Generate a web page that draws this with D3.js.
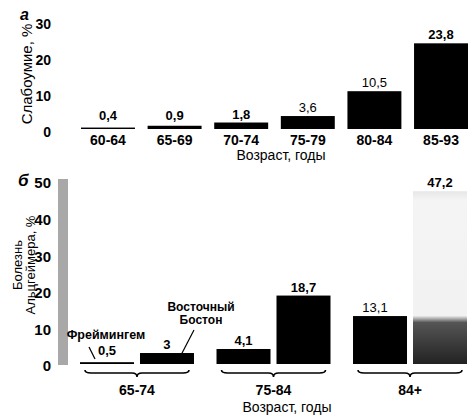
<!DOCTYPE html>
<html><head><meta charset="utf-8">
<script src="https://cdn.jsdelivr.net/npm/d3@7"></script>
<style>
html,body{margin:0;padding:0;background:#fff;}
svg{display:block;}
.narrow{font-family:"Liberation Sans Narrow","Arial Narrow","Liberation Sans",sans-serif;}
.sans{font-family:"Liberation Sans",Arial,sans-serif;}
</style></head>
<body>
<svg id="chart" width="470" height="417"></svg>
<script>
// ---- Panel а: dementia ----
const ageGroupsA = ["60-64","65-69","70-74","75-79","80-84","85-93"];
const dementiaPct = [0.4, 0.9, 1.8, 3.6, 10.5, 23.8];
const ticksA = [0, 10, 20, 30];

// ---- Panel б: Alzheimer's disease ----
const ageGroupsB = ["65-74","75-84","84+"];
const studies = ["Фреймингем","Восточный Бостон"];
const framinghamPct = [0.5, 4.1, 13.1];
const eastBostonPct = [3, 18.7, 47.2];
const ticksB = [0, 10, 20, 30, 40, 50];

const ru = d3.formatLocale({decimal: ",", thousands: " ", grouping: [3], currency: ["", ""]});
const fmt = v => ru.format("~g")(v);

const svg = d3.select("#chart");
const defs = svg.append("defs");
const grad = defs.append("linearGradient").attr("id","fade").attr("x1",0).attr("y1",0).attr("x2",0).attr("y2",1);
[[0,"#e6e6e6"],[0.05,"#f4f4f4"],[0.72,"#f2f2f2"],[0.76,"#555"],[1,"#222"]].forEach(([o,c]) =>
  grad.append("stop").attr("offset",o).attr("stop-color",c));

// ===== Panel а =====
const xA = d3.scaleBand().domain(ageGroupsA).range([81, 468]).paddingInner(0.19).paddingOuter(0);
const yA = d3.scaleLinear().domain([0, 30]).range([129, 21]);

const gA = svg.append("g");
gA.selectAll("rect.bar").data(dementiaPct).join("rect")
  .attr("class","bar")
  .attr("x", (d,i) => xA(ageGroupsA[i]))
  .attr("width", xA.bandwidth())
  .attr("y", d => yA(d))
  .attr("height", d => yA(0) - yA(d))
  .attr("fill", "#000");

gA.selectAll("text.val").data(dementiaPct).join("text")
  .attr("class","val narrow")
  .attr("x", (d,i) => xA(ageGroupsA[i]) + xA.bandwidth()/2)
  .attr("y", d => Math.min(yA(d), yA(0) - 5) - 4)
  .attr("text-anchor","middle")
  .attr("font-size", 13)
  .attr("font-weight", (d,i) => (i === 3 || i === 4) ? "normal" : "bold")
  .text(d => fmt(d));

const axA = d3.axisLeft(yA).tickValues(ticksA).tickSize(0).tickPadding(0).tickFormat(d3.format("d"));
const axAg = gA.append("g").attr("transform","translate(51,3)").call(axA);
axAg.select(".domain").remove();
axAg.selectAll("text").attr("class","narrow").attr("font-size",14).attr("font-weight","bold").attr("fill","#000");

const xAxA = d3.axisBottom(xA).tickSize(0).tickPadding(0);
const xAxAg = gA.append("g").attr("transform","translate(0,145)").call(xAxA);
xAxAg.select(".domain").remove();
xAxAg.selectAll("text").attr("class","narrow").attr("font-size",14).attr("font-weight","bold").attr("fill","#000").attr("dy","0");

gA.append("text").attr("class","sans").attr("x",281).attr("y",160).attr("text-anchor","middle")
  .attr("font-size",14).text("Возраст, годы");
gA.append("text").attr("class","narrow").attr("transform","translate(32,74) rotate(-90)")
  .attr("text-anchor","middle").attr("font-size",15).text("Слабоумие, %");
gA.append("text").attr("class","sans").attr("x",20).attr("y",20).attr("font-size",16)
  .attr("font-weight","bold").attr("font-style","italic").text("а");

// ===== Panel б =====
const x0 = d3.scaleBand().domain(ageGroupsB).range([80, 467]).paddingInner(0.165).paddingOuter(0);
const x1 = d3.scaleBand().domain(studies).range([0, x0.bandwidth()]).paddingInner(0.1).paddingOuter(0);
const yB = d3.scaleLinear().domain([0, 50]).range([364, 181]);

const gB = svg.append("g");
// scanned axis band
gB.append("line").attr("x1",63).attr("x2",63).attr("y1",yB(50)-2).attr("y2",yB(0)+1)
  .attr("stroke","#a8a8a8").attr("stroke-width",10);

const rows = [];
ageGroupsB.forEach((g,i) => {
  rows.push({group:g, study:studies[0], value:framinghamPct[i]});
  rows.push({group:g, study:studies[1], value:eastBostonPct[i]});
});

gB.selectAll("rect.bar").data(rows).join("rect")
  .attr("class","bar")
  .attr("x", d => x0(d.group) + x1(d.study))
  .attr("width", x1.bandwidth())
  .attr("y", d => yB(d.value))
  .attr("height", d => yB(0) - yB(d.value))
  .attr("fill", d => d.value > 40 ? "url(#fade)" : "#000");

gB.selectAll("text.val").data(rows).join("text")
  .attr("class","val narrow")
  .attr("x", d => x0(d.group) + x1(d.study) + x1.bandwidth()/2 + (d.value > 10 && d.value < 15 ? -5 : 0))
  .attr("y", d => Math.min(yB(d.value), yB(0) - 5) - 4)
  .attr("text-anchor","middle")
  .attr("font-size",13)
  .attr("font-weight", d => d.value > 10 && d.value < 15 ? "normal" : "bold")
  .text(d => fmt(d.value));

const axB = d3.axisLeft(yB).tickValues(ticksB).tickSize(0).tickPadding(0).tickFormat(d3.format("d"));
const axBg = gB.append("g").attr("transform","translate(51,2)").call(axB);
axBg.select(".domain").remove();
axBg.selectAll("text").attr("class","narrow").attr("font-size",15).attr("font-weight","bold").attr("fill","#000");

// braces under groups
const by = 373;
gB.selectAll("path.brace").data(ageGroupsB).join("path")
  .attr("class","brace")
  .attr("d", g => {
    const a = x0(g) + 5, b = x0(g) + x0.bandwidth() - 5, c = (a + b) / 2;
    return `M${a},${by-3} Q${a},${by} ${a+6},${by} L${c-5},${by} Q${c},${by} ${c},${by+4} Q${c},${by} ${c+5},${by} L${b-6},${by} Q${b},${by} ${b},${by-3}`;
  })
  .attr("fill","none").attr("stroke","#000").attr("stroke-width",1.6);

const xAxB = d3.axisBottom(x0).tickSize(0).tickPadding(0);
const xAxBg = gB.append("g").attr("transform","translate(0,395)").call(xAxB);
xAxBg.select(".domain").remove();
xAxBg.selectAll("text").attr("class","narrow").attr("font-size",14).attr("font-weight","bold").attr("fill","#000").attr("dy","0");

gB.append("text").attr("class","sans").attr("x",287).attr("y",412).attr("text-anchor","middle")
  .attr("font-size",14).text("Возраст, годы");
gB.append("text").attr("class","narrow").attr("transform","translate(0,265) rotate(-90)")
  .attr("text-anchor","middle").attr("font-size",13).attr("x",0).attr("y",22).text("Болезнь");
gB.append("text").attr("class","narrow").attr("transform","translate(0,265) rotate(-90)")
  .attr("text-anchor","middle").attr("font-size",13).attr("x",0).attr("y",35).text("Альцгеймера, %");
gB.append("text").attr("class","sans").attr("x",18).attr("y",186).attr("font-size",17)
  .attr("font-weight","bold").attr("font-style","italic").text("б");

// study annotations
const fBar = x0(ageGroupsB[0]) + x1(studies[0]);
const eBar = x0(ageGroupsB[0]) + x1(studies[1]);
gB.append("text").attr("class","narrow").attr("x",106).attr("y",339).attr("text-anchor","middle")
  .attr("font-size",12.5).attr("font-weight","bold").text(studies[0]);
gB.append("line").attr("x1",fBar+9).attr("y1",347).attr("x2",fBar+15).attr("y2",359)
  .attr("stroke","#000").attr("stroke-width",1.2);
gB.append("text").attr("class","narrow").attr("text-anchor","middle")
  .attr("font-size",12).attr("font-weight","bold").attr("x",201).attr("y",311).text("Восточный");
gB.append("text").attr("class","narrow").attr("text-anchor","middle")
  .attr("font-size",12).attr("font-weight","bold").attr("x",201).attr("y",324).text("Бостон");
gB.append("line").attr("x1",eBar+54).attr("y1",330).attr("x2",eBar+40).attr("y2",357)
  .attr("stroke","#000").attr("stroke-width",1.2);
</script>
</body></html>
